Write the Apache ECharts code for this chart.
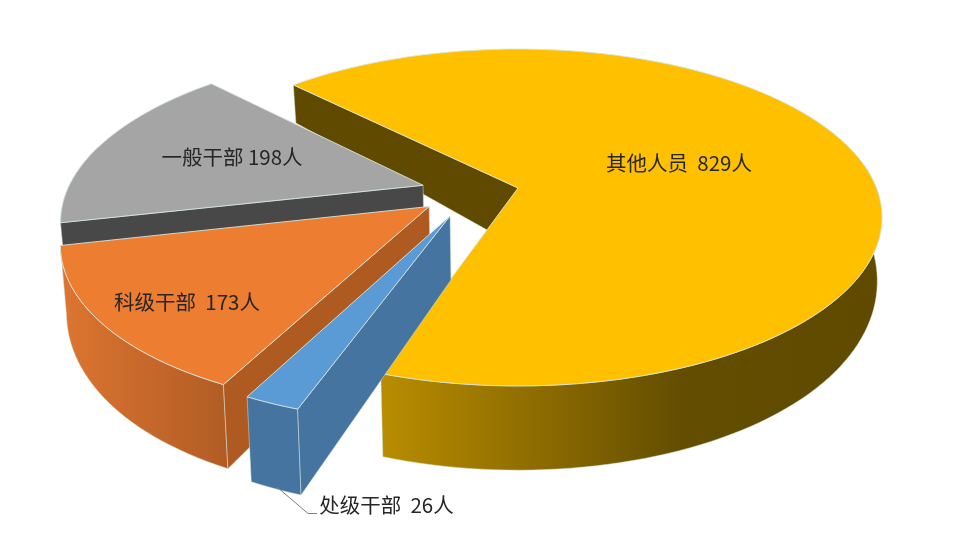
<!DOCTYPE html>
<html><head><meta charset="utf-8">
<style>html,body{margin:0;padding:0;background:#fff}#c{width:960px;height:533px}</style>
<script src="https://cdn.jsdelivr.net/npm/echarts@6/dist/echarts.min.js"></script>
</head><body><div id="c"></div>
<script>
var categories = ['其他人员','一般干部','科级干部','处级干部'];
var values = [829,198,173,26];
var separators = ['  ',' ','  ','  '];
var unit = '人';

// rendering constants (camera + per-slice styling)
var START = 225.2, P = 0.175, AX = 518, AY = 188, A = 358.4, B = 163.3;
var BOT = {c:0.0127, P:0.139, B:186.5, D:60};
var sliceOffset = [[0,0],[-0.2656,-0.0165],[-0.243,0.111],[-0.184,0.166]];
var sliceRadius = [1,0.99,0.985,0.98];
var faces = [
 {top:'#FFC000',cut:'#604A00',wall:{type:'linear',x:385,y:0,x2:880,y2:0,global:true,colorStops:[{offset:0,color:'#B88C00'},{offset:.25,color:'#957200'},{offset:.6,color:'#634D00'},{offset:1,color:'#604A00'}]}},
 {top:'#A5A5A5',cut:'#484848',wall:'#555555'},
 {top:'#ED7D31',cut:'#AE5A21',wall:{type:'linear',x:60,y:0,x2:230,y2:0,global:true,colorStops:[{offset:0,color:'#DD7530'},{offset:1,color:'#B05C25'}]}},
 {top:'#5B9BD5',cut:'#44749F',wall:'#44749F'}
];
var labelPos = [[679,163],[232,157],[187,302],[386.5,505]];
var EDGE = '#D6E6DC';

function top3(u,v){var w=1-P*v;return [AX+A*u/w,AY+B*v/w];}
function bot3(u,v){return [AX+A*u/(1-P*v+BOT.c),AY+(BOT.B*v+BOT.D)/(1+BOT.c-BOT.P*v)];}

var total = values.reduce(function(a,b){return a+b;},0);

function renderItem(params, api){
  var i = params.dataIndex, val = api.value(0), before = 0;
  // the largest slice runs clockwise from START, the others counter-clockwise from it
  for (var k=1;k<i;k++) before += values[k];
  var sweep = val/total*2*Math.PI, s = START*Math.PI/180, a0, a1;
  if (i===0){a0=s;a1=s+sweep;} else {a1=s-before/total*2*Math.PI;a0=a1-sweep;}
  var o = sliceOffset[i], f = faces[i], r = sliceRadius[i];
  var n = Math.max(4,Math.ceil((a1-a0)/0.03)), tArc=[], bArc=[], wT=[], wB=[];
  for (var j=0;j<=n;j++){
    var t=a0+(a1-a0)*j/n, u=o[0]+r*Math.cos(t), v=o[1]+r*Math.sin(t);
    var pT=top3(u,v), pB=bot3(u,v);
    tArc.push(pT); bArc.push(pB);
    if (Math.sin(t)>-0.25){wT.push(pT);wB.push(pB);}   // only the side of the wall facing the viewer
  }
  var tC=top3(o[0],o[1]), bC=bot3(o[0],o[1]);
  var poly=function(pts,fill,stroke,lw){return {type:'polygon',shape:{points:pts},style:{fill:fill,stroke:stroke,lineWidth:lw,lineJoin:'round'}};};
  var children=[];
  if (wT.length>1) children.push(poly(wT.concat(wB.slice().reverse()),f.wall,EDGE,0.5));
  // only the radial cut facing the viewer shows
  var vis = Math.cos(a0)<0 ? 0 : n;
  children.push(poly([tC,tArc[vis],bArc[vis],bC],f.cut,EDGE,0.5));
  children.push(poly([tC].concat(tArc),f.top,EDGE,0.9));
  children.push({type:'text',z2:10,style:{text:categories[i]+separators[i]+val+unit,x:labelPos[i][0],y:labelPos[i][1],align:'center',verticalAlign:'middle',font:'20.5px "Noto Sans CJK SC"',fill:'#262626'}});
  return {type:'group',children:children};
}

var chart = echarts.init(document.getElementById('c'),null,{renderer:'canvas'});
chart.setOption({
  animation:false,
  backgroundColor:'#ffffff',
  graphic:[{type:'polyline',z:20,shape:{points:[[277,487],[308,513.5],[317,513.5]]},style:{stroke:'#7F7F7F',lineWidth:1,fill:null}}],
  series:[{type:'custom',coordinateSystem:'none',renderItem:renderItem,data:values.map(function(v){return [v];})}]
});
</script></body></html>
